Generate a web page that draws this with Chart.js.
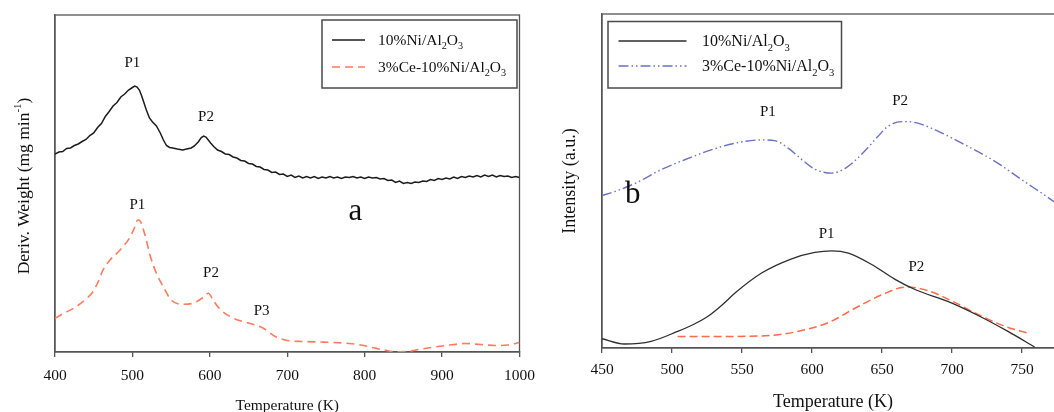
<!DOCTYPE html>
<html>
<head>
<meta charset="utf-8">
<script src="https://cdn.jsdelivr.net/npm/chart.js@4.4.1/dist/chart.umd.min.js"></script>
<style>
  html, body { margin: 0; padding: 0; background: #fff; overflow: hidden; width: 1054px; height: 412px; }
  #panelA { position: absolute; left: 0; top: 0; }
  #panelB { position: absolute; left: 545px; top: 0; }
</style>
</head>
<body>
<canvas id="panelA" width="545" height="412"></canvas>
<canvas id="panelB" width="540" height="412"></canvas>
<script>
const SERIF = "'Liberation Serif', 'Times New Roman', serif";
const INK = '#111';
Chart.defaults.font.family = SERIF;
Chart.defaults.color = INK;
Chart.defaults.animation = false;

// ---- Panel a: derivative weight (DTG) curves, arbitrary units ----
const tgaTempNi = [400,405,410,415,420,425,430,435,440,445,450,455,460,465,470,475,480,485,490,495,
  500,503,506,509,512,515,518,522,526,531,536,540,544,548,552,558,565,570,576,580,585,589,592,595,598,601,
  605,610,615,620,625,630,635,640,645,650,655,660,665,670,675,680,685,690,695,700,705,710,715,720,725,730,
  735,740,745,750,755,760,765,770,775,780,785,790,795,800,805,810,815,820,825,830,835,840,845,850,855,860,
  865,870,875,880,885,890,895,900,905,910,915,920,925,930,935,940,945,950,955,960,965,970,975,980,985,990,995,1000];
const tgaNi = [19.8,20.0,20.05,20.35,20.4,20.65,20.8,21.05,21.25,21.65,21.9,22.45,22.85,23.55,24.05,24.6,24.95,25.5,25.8,26.2,
  26.45,26.6,26.5,26.2,25.6,24.9,24.2,23.4,23.0,22.6,21.9,21.2,20.65,20.45,20.4,20.3,20.2,20.3,20.4,20.6,21.0,21.45,21.6,21.5,21.2,20.9,
  20.55,20.2,20.05,19.8,19.75,19.5,19.4,19.15,19.1,18.85,18.8,18.55,18.5,18.25,18.2,17.95,18.0,17.75,17.8,17.55,17.7,17.45,17.6,17.4,17.55,17.4,
  17.55,17.35,17.5,17.4,17.55,17.4,17.5,17.35,17.5,17.45,17.55,17.4,17.5,17.35,17.5,17.4,17.45,17.3,17.35,17.15,17.2,16.95,17.1,16.85,16.95,16.85,
  17.0,16.95,17.1,17.05,17.25,17.15,17.35,17.25,17.4,17.3,17.5,17.35,17.55,17.45,17.6,17.5,17.65,17.5,17.7,17.55,17.7,17.5,17.65,17.55,17.6,17.45,17.55,17.45];

const tgaTempCe = [400,412,424,436,449,455,462,471,484,496,502,507,510,513,518,522,531,541,550,565,578,591,598,605,612,
  629,651,668,685,702,720,740,760,780,795,810,825,840,855,870,890,910,930,950,970,985,1000];
const tgaCe = [3.37,3.9,4.37,5.03,6.03,6.9,8.2,9.2,10.2,11.37,12.3,13.2,13.1,12.53,11.2,9.87,7.87,6.37,5.2,4.77,4.87,5.43,5.87,5.1,4.37,
  3.43,2.87,2.43,1.53,1.13,1.05,1.0,0.95,0.85,0.7,0.45,0.2,0.03,0.05,0.25,0.5,0.7,0.85,0.75,0.65,0.7,0.95];

const tgaTicks = [400,500,600,700,800,900,1000];

// ---- Panel b: H2-TPR profiles, arbitrary units ----
const tprTempNi = [450,466,485,504,516,526,536,545,564,585,602,614,626,643,659,674,697,719,740,759];
const tprNi = [0.93,0.4,0.66,1.66,2.4,3.2,4.33,5.5,7.5,8.9,9.56,9.73,9.5,8.33,6.9,5.83,4.66,3.23,1.66,0.1];

const tprTempNiP2 = [504,540,576,592,612,631,650,667,683,702,719,738,754];
const tprNiP2 = [1.16,1.16,1.33,1.73,2.56,4.0,5.33,6.1,5.73,4.56,3.33,2.16,1.5];

const tprTempCe = [450,459,474,493,512,528,545,564,574,583,593,602,614,624,635,647,654,664,674,688,707,731,750,771,780];
const tprCe = [15.26,15.66,16.5,17.9,19.0,19.83,20.5,20.83,20.73,20.0,18.83,17.9,17.5,18.0,19.33,21.16,22.16,22.66,22.56,21.83,20.5,18.66,16.83,14.83,13.9];

const tprTicks = [450,500,550,600,650,700,750];

const seriesNames = ['10%Ni/Al2O3', '3%Ce-10%Ni/Al2O3'];

const pts = (xs, ys) => xs.map((x, i) => ({ x, y: ys[i] }));

// Draw a formula string, subscripting digits that follow a letter (Al2O3 -> Al₂O₃)
function drawFormula(ctx, str, x, baseline, size) {
  let cx = x;
  for (let i = 0; i < str.length; i++) {
    const ch = str[i];
    const sub = /[0-9]/.test(ch) && i > 0 && /[A-Za-z]/.test(str[i - 1]);
    const s = sub ? size * 0.66 : size;
    ctx.font = s + 'px ' + SERIF;
    ctx.fillText(ch, cx, baseline + (sub ? size * 0.28 : 0));
    cx += ctx.measureText(ch).width;
  }
}

// Framed legend inside the plot, with line samples taken from the datasets
const boxLegend = {
  id: 'boxLegend',
  afterDraw(chart, args, o) {
    const ctx = chart.ctx;
    ctx.save();
    ctx.strokeStyle = '#4a4a4a';
    ctx.lineWidth = 1.5;
    ctx.setLineDash([]);
    ctx.strokeRect(o.box[0], o.box[1], o.box[2], o.box[3]);
    o.rows.forEach((r, k) => {
      const ds = chart.data.datasets[r.dataset];
      ctx.strokeStyle = ds.borderColor;
      ctx.lineWidth = ds.borderWidth;
      ctx.setLineDash(ds.borderDash || []);
      ctx.beginPath();
      ctx.moveTo(o.lineX[0], o.rowY[k]);
      ctx.lineTo(o.lineX[1], o.rowY[k]);
      ctx.stroke();
      ctx.setLineDash([]);
      ctx.fillStyle = INK;
      ctx.textBaseline = 'alphabetic';
      ctx.textAlign = 'left';
      drawFormula(ctx, seriesNames[r.name], o.textX, o.rowY[k] + o.size * 0.33, o.size);
    });
    ctx.restore();
  }
};

// Closed frame around the plot area
const frame = {
  id: 'frame',
  beforeDatasetsDraw(chart) {
    const { ctx, chartArea: a } = chart;
    ctx.save();
    ctx.strokeStyle = '#555';
    ctx.lineWidth = 1.3;
    ctx.strokeRect(a.left, a.top, a.right - a.left, a.bottom - a.top);
    ctx.restore();
  }
};

// Peak labels and panel letters placed in data coordinates
const textMarks = {
  id: 'textMarks',
  afterDatasetsDraw(chart, args, o) {
    const ctx = chart.ctx;
    const xs = chart.scales.x, ys = chart.scales.y;
    ctx.save();
    ctx.fillStyle = INK;
    ctx.textAlign = 'center';
    ctx.textBaseline = 'middle';
    o.items.forEach(m => {
      ctx.font = m.size + 'px ' + SERIF;
      ctx.fillText(m.text, xs.getPixelForValue(m.x), ys.getPixelForValue(m.y));
    });
    if (o.yTitle) {
      const t = o.yTitle;
      ctx.translate(t.x, t.y);
      ctx.rotate(-Math.PI / 2);
      ctx.textAlign = 'left';
      ctx.textBaseline = 'alphabetic';
      const supSize = t.size * 0.62;
      ctx.font = t.size + 'px ' + SERIF;
      const w1 = ctx.measureText(t.text).width;
      const w3 = ctx.measureText(t.tail).width;
      ctx.font = supSize + 'px ' + SERIF;
      const w2 = ctx.measureText(t.sup).width;
      let cx = -(w1 + w2 + w3) / 2;
      const base = t.size * 0.33;
      ctx.font = t.size + 'px ' + SERIF;
      ctx.fillText(t.text, cx, base); cx += w1;
      ctx.font = supSize + 'px ' + SERIF;
      ctx.fillText(t.sup, cx, base - t.size * 0.42); cx += w2;
      ctx.font = t.size + 'px ' + SERIF;
      ctx.fillText(t.tail, cx, base);
    }
    ctx.restore();
  }
};

function xAxis(min, max, ticks, height, tickPad, titleSize, titleLH) {
  return {
    type: 'linear', min, max,
    afterBuildTicks: s => { s.ticks = ticks.map(v => ({ value: v })); },
    afterFit: s => { s.height = height; },
    grid: { display: true, drawOnChartArea: false, drawTicks: true, tickLength: 5, color: '#555', lineWidth: 1.3 },
    border: { display: true, color: '#555', width: 1.3 },
    ticks: { padding: tickPad, font: { size: 15.5 }, color: INK, maxRotation: 0, autoSkip: false,
             callback: v => String(v) },
    title: { display: true, text: 'Temperature (K)', color: INK, padding: 0,
             font: { size: titleSize, lineHeight: titleLH } }
  };
}

// Panel a
new Chart(document.getElementById('panelA'), {
  type: 'line',
  data: {
    datasets: [
      { data: pts(tgaTempNi, tgaNi), borderColor: '#1c1c1c', borderWidth: 1.5, tension: 0, pointRadius: 0 },
      { data: pts(tgaTempCe, tgaCe), borderColor: '#ff7b5e', borderWidth: 1.6, borderDash: [8, 5],
        cubicInterpolationMode: 'monotone', pointRadius: 0 }
    ]
  },
  options: {
    responsive: false,
    layout: { padding: { left: 0, top: 15, right: 23, bottom: 0 } },
    scales: {
      x: xAxis(400, 1000, tgaTicks, 60, 10, 15.5, 0.8),
      y: {
        min: 0, max: 33.7,
        afterFit: s => { s.width = 55; },
        grid: { display: false },
        border: { display: true, color: '#555', width: 1.3 },
        ticks: { display: false }
      }
    },
    plugins: {
      legend: { display: false },
      tooltip: { enabled: false },
      boxLegend: {
        box: [322, 20, 195, 68], lineX: [332, 365], textX: 378, rowY: [40, 67], size: 15.5,
        rows: [{ dataset: 0, name: 0 }, { dataset: 1, name: 1 }]
      },
      textMarks: {
        items: [
          { text: 'P1', x: 500, y: 28.9, size: 15 },
          { text: 'P2', x: 595, y: 23.5, size: 15 },
          { text: 'P1', x: 506.5, y: 14.7, size: 15 },
          { text: 'P2', x: 601.5, y: 7.9, size: 15 },
          { text: 'P3', x: 667, y: 4.1, size: 15 },
          { text: 'a', x: 788, y: 14.0, size: 31 }
        ],
        yTitle: { text: 'Deriv. Weight (mg min', sup: '-1', tail: ')', x: 23, y: 186, size: 17.5 }
      }
    }
  },
  plugins: [frame, textMarks, boxLegend]
});

// Panel b
new Chart(document.getElementById('panelB'), {
  type: 'line',
  data: {
    datasets: [
      { data: pts(tprTempNi, tprNi), borderColor: '#2e2e2e', borderWidth: 1.3,
        cubicInterpolationMode: 'monotone', pointRadius: 0 },
      { data: pts(tprTempCe, tprCe), borderColor: '#6a72c4', borderWidth: 1.4, borderDash: [10, 3, 1.5, 3, 1.5, 3],
        cubicInterpolationMode: 'monotone', pointRadius: 0 },
      { data: pts(tprTempNiP2, tprNiP2), borderColor: '#ff6a48', borderWidth: 1.5, borderDash: [8, 4],
        cubicInterpolationMode: 'monotone', pointRadius: 0 }
    ]
  },
  options: {
    responsive: false,
    layout: { padding: { left: 0, top: 14, right: 21, bottom: 0 } },
    scales: {
      x: xAxis(450, 780, tprTicks, 64, 8, 18, 1.1),
      y: {
        min: 0, max: 33.43,
        afterFit: s => { s.width = 57; },
        grid: { display: false },
        border: { display: true, color: '#555', width: 1.3 },
        ticks: { display: false },
        title: { display: true, text: 'Intensity (a.u.)', color: INK, padding: { top: 14, bottom: 0 },
                 font: { size: 18, lineHeight: 1.2 } }
      }
    },
    plugins: {
      legend: { display: false },
      tooltip: { enabled: false },
      boxLegend: {
        box: [63, 21.5, 233.5, 66.5], lineX: [73.5, 141.5], textX: 157, rowY: [41, 66], size: 16,
        rows: [{ dataset: 0, name: 0 }, { dataset: 1, name: 1 }]
      },
      textMarks: {
        items: [
          { text: 'P1', x: 568.5, y: 23.6, size: 15 },
          { text: 'P2', x: 663, y: 24.7, size: 15 },
          { text: 'b', x: 472, y: 15.3, size: 31 },
          { text: 'P1', x: 610.5, y: 11.4, size: 15 },
          { text: 'P2', x: 674.5, y: 8.1, size: 15 }
        ]
      }
    }
  },
  plugins: [frame, textMarks, boxLegend]
});
</script>
</body>
</html>
